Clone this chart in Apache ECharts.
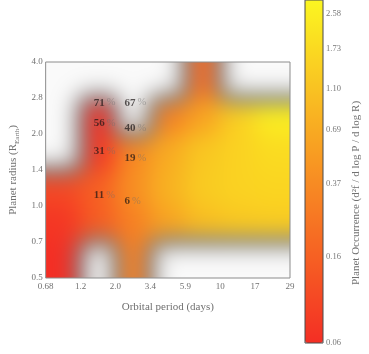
<!DOCTYPE html>
<html><head><meta charset="utf-8">
<script src="https://cdn.jsdelivr.net/npm/echarts@6/dist/echarts.min.js"></script>
<style>
html,body{margin:0;padding:0;background:#fff;}
#wrap{position:relative;width:369px;height:354px;overflow:hidden;}
#main{position:absolute;left:0;top:0;width:369px;height:354px;}
#blur{position:absolute;left:0;top:0;}
#off{position:absolute;left:-3000px;top:0;width:300px;height:300px;}
</style></head><body>
<div id="wrap"><canvas id="blur" width="1" height="1"></canvas><div id="main"></div></div>
<div id="off"></div>
<script>
// ---- data ----
const periodTicks = ['0.68', '1.2', '2.0', '3.4', '5.9', '10', '17', '29'];
const radiusTicks = ['0.5', '0.7', '1.0', '1.4', '2.0', '2.8', '4.0'];
// occurrence per period bin (7 bins between period ticks); one array per radius bin; null = no data
const occ_R05_07 = [0.06, null, 0.30, null, null, null, null];
const occ_R07_10 = [0.07, 0.15, 0.30, 0.60, 1.00, 1.20, 1.30];
const occ_R10_14 = [0.10, 0.16, 0.40, 0.80, 1.30, 1.50, 1.60];
const occ_R14_20 = [null, 0.07, 0.35, 0.70, 1.20, 1.50, 1.80];
const occ_R20_28 = [null, 0.06, null, 0.30, 0.60, 1.40, 2.60];
const occ_R28_40 = [null, null, null, null, 0.20, null, null];
const radiusRows = [occ_R05_07, occ_R07_10, occ_R10_14, occ_R14_20, occ_R20_28, occ_R28_40];
const colorbarTicks = [0.06, 0.16, 0.37, 0.69, 1.10, 1.73, 2.58];
const colorbarMin = 0.06, colorbarMax = 3.03;
// percentage annotations (positions in period-bin / radius-bin units)
const annoText = ['71', '56', '31', '11', '67', '40', '19', '6'];
const annoPeriodPos = [1.38, 1.38, 1.38, 1.38, 2.26, 2.26, 2.26, 2.26];
const annoRadiusPos = [4.87, 4.31, 3.51, 2.30, 4.87, 4.15, 3.33, 2.14];

const FONT = 'Liberation Serif';
const lnMin = Math.log(colorbarMin), lnMax = Math.log(colorbarMax);
const cmap = ['#f42e24', '#fbf621'];

const heatData = [];
radiusRows.forEach((row, yi) => row.forEach((v, xi) => {
  if (v != null) heatData.push([xi, yi, Math.log(v)]);
}));

const main = echarts.init(document.getElementById('main'), null, {renderer: 'canvas'});
main.setOption({
  animation: false,
  backgroundColor: 'transparent',
  grid: [
    {left: 35, top: 62, right: 79, bottom: 76, show: true, borderColor: '#8c8c8c', borderWidth: 1, backgroundColor: 'transparent'},
    {left: 305, top: 0, width: 18, height: 343, show: true, borderColor: '#4a4a4a', borderWidth: 1, backgroundColor: 'transparent', z: 10}
  ],
  xAxis: [
    {type: 'value', gridIndex: 0, min: 0, max: periodTicks.length - 1, interval: 1,
     axisLine: {show: false}, axisTick: {show: false}, splitLine: {show: false},
     axisLabel: {formatter: v => periodTicks[v], color: '#707070', fontFamily: FONT, fontSize: 9, margin: 4},
     name: 'Orbital period (days)', nameLocation: 'middle', nameGap: 24,
     nameTextStyle: {fontFamily: FONT, fontSize: 11, color: '#707070'}},
    {type: 'value', gridIndex: 1, show: false, min: 0, max: 1}
  ],
  yAxis: [
    {type: 'value', gridIndex: 0, min: 0, max: radiusTicks.length - 1, interval: 1,
     axisLine: {show: false}, axisTick: {show: false}, splitLine: {show: false},
     axisLabel: {formatter: v => radiusTicks[v], color: '#707070', fontFamily: FONT, fontSize: 9, margin: 3},
     name: '{a|Planet radius (R}{s|Earth}{a|)}', nameLocation: 'middle', nameGap: 20, nameRotate: 90,
     nameTextStyle: {rich: {
       a: {fontFamily: FONT, fontSize: 11, color: '#707070', lineHeight: 14},
       s: {fontFamily: FONT, fontSize: 7, color: '#707070', lineHeight: 14, verticalAlign: 'bottom', padding: [4, 0, 0, 0]}
     }}},
    {type: 'value', gridIndex: 1, position: 'right', min: lnMin, max: lnMax,
     axisLine: {show: false}, axisTick: {show: false}, splitLine: {show: false},
     axisLabel: {customValues: colorbarTicks.map(Math.log), formatter: v => Math.exp(v).toFixed(2),
                 color: '#777', fontFamily: FONT, fontSize: 8.5, margin: 3}}
  ],
  visualMap: {
    type: 'continuous', min: lnMin, max: lnMax, seriesIndex: [], calculable: false,
    left: 305, top: 0, itemWidth: 18, itemHeight: 343, padding: 0,
    inRange: {color: cmap}
  },
  graphic: [{
    type: 'text', x: 356, y: 193, rotation: Math.PI / 2,
    style: {text: 'Planet Occurrence (d²f / d log P / d log R)', fontFamily: FONT, fontSize: 11,
            fill: '#707070', align: 'center', verticalAlign: 'middle'}
  }],
  series: [{
    type: 'scatter', xAxisIndex: 0, yAxisIndex: 0, symbolSize: 0, silent: true, z: 20,
    data: annoText.map((t, i) => ({value: [annoPeriodPos[i], annoRadiusPos[i]]})),
    label: {
      show: true, position: 'right', distance: 0,
      formatter: p => '{n|' + annoText[p.dataIndex] + '}{p|%}',
      rich: {
        n: {fontFamily: FONT, fontWeight: 'bold', fontSize: 11, color: 'rgba(25,20,20,0.88)'},
        p: {fontFamily: FONT, fontSize: 10.5, color: 'rgba(110,110,110,0.6)', padding: [0, 0, 0, 2]}
      }
    }
  }]
});

// ---- heatmap cells, rendered by ECharts then smoothed (gaussian interpolation look) ----
const p0 = main.convertToPixel({gridIndex: 0}, [0, radiusTicks.length - 1]);
const p1 = main.convertToPixel({gridIndex: 0}, [periodTicks.length - 1, 0]);
const X0 = Math.round(p0[0]), Y0 = Math.round(p0[1]);
const W = Math.round(p1[0]) - X0, H = Math.round(p1[1]) - Y0;

const off = echarts.init(document.getElementById('off'), null, {renderer: 'canvas', width: W, height: H, devicePixelRatio: 1});
off.setOption({
  animation: false,
  grid: {left: 0, right: 0, top: 0, bottom: 0},
  xAxis: {type: 'category', show: false, data: periodTicks.slice(1).map((t, i) => String(i))},
  yAxis: {type: 'category', show: false, data: radiusTicks.slice(1).map((t, i) => String(i))},
  visualMap: {show: false, type: 'continuous', min: lnMin, max: lnMax, dimension: 2, inRange: {color: cmap}},
  series: [{type: 'heatmap', data: heatData, itemStyle: {borderWidth: 0}, emphasis: {disabled: true}}]
});
const src = off.renderToCanvas ? off.renderToCanvas({pixelRatio: 1}) : off.getRenderedCanvas({pixelRatio: 1});
const tmp = document.createElement('canvas'); tmp.width = W; tmp.height = H;
const tctx = tmp.getContext('2d');
tctx.drawImage(src, 0, 0, W, H);
const sd = tctx.getImageData(0, 0, W, H).data;

const N = W * H;
const chR = new Float32Array(N), chG = new Float32Array(N), chB = new Float32Array(N), chA = new Float32Array(N);
for (let i = 0; i < N; i++) {
  const a = sd[i * 4 + 3] / 255;
  chR[i] = sd[i * 4] * a; chG[i] = sd[i * 4 + 1] * a; chB[i] = sd[i * 4 + 2] * a; chA[i] = a;
}
const sigma = 12, rad = Math.ceil(sigma * 3);
const kern = [];
let ks = 0;
for (let k = -rad; k <= rad; k++) { const w = Math.exp(-k * k / (2 * sigma * sigma)); kern.push(w); ks += w; }
for (let k = 0; k < kern.length; k++) kern[k] /= ks;
function blur(ch) {
  const t = new Float32Array(N), o = new Float32Array(N);
  for (let y = 0; y < H; y++) for (let x = 0; x < W; x++) {
    let s = 0;
    for (let k = -rad; k <= rad; k++) { const xx = Math.min(W - 1, Math.max(0, x + k)); s += ch[y * W + xx] * kern[k + rad]; }
    t[y * W + x] = s;
  }
  for (let y = 0; y < H; y++) for (let x = 0; x < W; x++) {
    let s = 0;
    for (let k = -rad; k <= rad; k++) { const yy = Math.min(H - 1, Math.max(0, y + k)); s += t[yy * W + x] * kern[k + rad]; }
    o[y * W + x] = s;
  }
  return o;
}
const bR = blur(chR), bG = blur(chG), bB = blur(chB), bA = blur(chA);

const outC = document.getElementById('blur');
outC.width = W; outC.height = H;
outC.style.left = X0 + 'px'; outC.style.top = Y0 + 'px';
const oc = outC.getContext('2d');
const img = oc.createImageData(W, H);
const bg = 250;
for (let i = 0; i < N; i++) {
  const a = bA[i];
  img.data[i * 4] = bR[i] * a + bg * (1 - a);
  img.data[i * 4 + 1] = bG[i] * a + bg * (1 - a);
  img.data[i * 4 + 2] = bB[i] * a + bg * (1 - a);
  img.data[i * 4 + 3] = 255;
}
oc.putImageData(img, 0, 0);
</script>
</body></html>
